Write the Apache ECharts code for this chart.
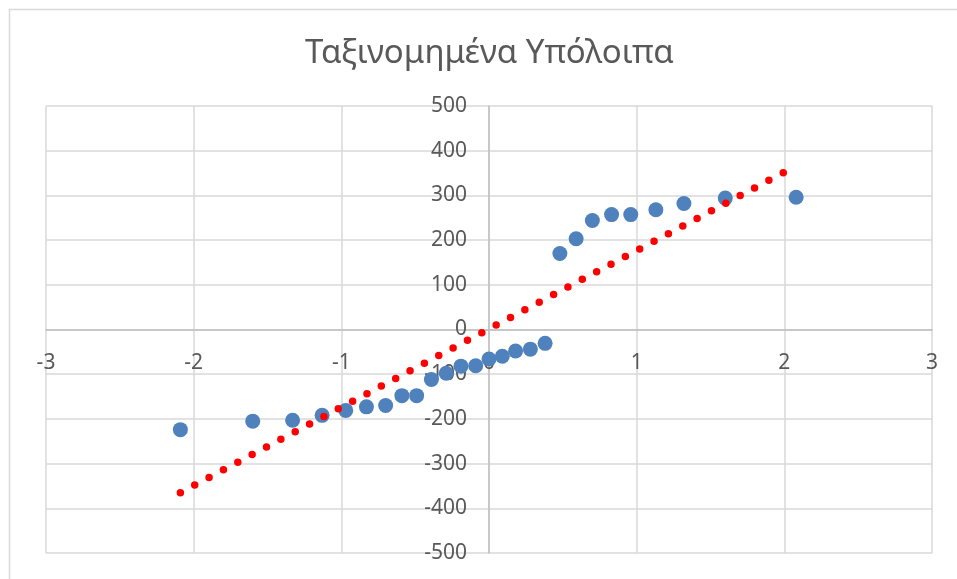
<!DOCTYPE html>
<html>
<head>
<meta charset="utf-8">
<script src="https://cdn.jsdelivr.net/npm/echarts@6/dist/echarts.min.js"></script>
<style>
html,body{margin:0;padding:0;background:#fff;}
#c{width:957px;height:579px;}
</style>
</head>
<body>
<div id="c"></div>
<script>
var titleText = 'Ταξινομημένα Υπόλοιπα';
var residX = [-2.09,-1.60,-1.33,-1.13,-0.97,-0.83,-0.70,-0.59,-0.49,-0.39,-0.29,-0.19,-0.09,0,0.09,0.18,0.28,0.38,0.48,0.59,0.70,0.83,0.96,1.13,1.32,1.60,2.08];
var residY = [-224,-205,-203,-192,-181,-173,-170,-148,-148,-112,-98,-82,-81,-66,-60,-48,-44,-31,170,203,244,257,257,268,282,294,296];
var lineX = [-2.09, 2.0];
var lineY = [-365, 352];
var xTicks = {min:-3, max:3, interval:1};
var yTicks = {min:-500, max:500, interval:100};

var scatterData = residX.map(function(x,i){return [x, residY[i]];});
var lineData = lineX.map(function(x,i){return [x, lineY[i]];});

var W = 957, H = 579;
var gL = 46, gR = 25, gT = 106, gB = 26;
var plotW = W - gL - gR, plotH = H - gT - gB;
// axes cross at zero: move whole axis (line + labels) to the zero position
var xOffset = -plotH * (0 - yTicks.min) / (yTicks.max - yTicks.min);
var yOffset = -plotW * (0 - xTicks.min) / (xTicks.max - xTicks.min);

var chart = echarts.init(document.getElementById('c'), null, {renderer:'canvas'});
var labelFont = {color:'#595959', fontSize:21, fontFamily:'Noto Sans'};
chart.setOption({
  animation:false,
  backgroundColor:'#fff',
  title:{text:titleText, left:300, top:32,
    textStyle:{color:'#595959', fontSize:33, fontWeight:'normal', fontFamily:'Noto Sans'}},
  graphic:[{type:'rect', left:7, top:7, shape:{width:980, height:600},
    style:{fill:'none', stroke:'#d9d9d9', lineWidth:1.5}, silent:true}],
  grid:{left:gL, right:gR, top:gT, bottom:gB, containLabel:false, outerBoundsMode:'none'},
  xAxis:{type:'value', min:xTicks.min, max:xTicks.max, interval:xTicks.interval,
    position:'bottom', offset:xOffset,
    axisLine:{onZero:false, lineStyle:{color:'#bfbfbf', width:1.5}},
    axisTick:{show:false},
    axisLabel:Object.assign({margin:23}, labelFont),
    splitLine:{show:true, lineStyle:{color:'#d9d9d9', width:1.5}}},
  yAxis:{type:'value', min:yTicks.min, max:yTicks.max, interval:yTicks.interval,
    position:'left', offset:yOffset,
    axisLine:{show:true, onZero:false, lineStyle:{color:'#bfbfbf', width:1.5}},
    axisTick:{show:false},
    axisLabel:Object.assign({margin:22}, labelFont),
    splitLine:{show:true, lineStyle:{color:'#d9d9d9', width:1.5}}},
  series:[
    {type:'scatter', data:scatterData, symbol:'circle', symbolSize:15,
      itemStyle:{color:'#4f81bd', opacity:1}, z:2},
    {type:'line', data:lineData, showSymbol:false, symbol:'none',
      lineStyle:{color:'#ff0000', width:7.5, type:[0,16.25], cap:'round'}, z:3}
  ]
});
</script>
</body>
</html>
